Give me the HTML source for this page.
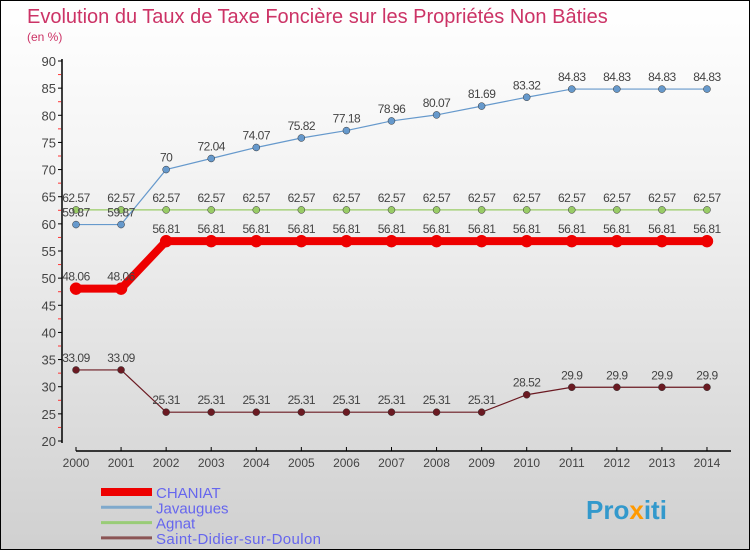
<!DOCTYPE html>
<html><head><meta charset="utf-8"><style>
body{margin:0}
#wrap{width:748px;height:548px;border:1px solid #000;background:linear-gradient(#fff,#f4f4f4 30%,#d0d0d0);position:relative;overflow:hidden;font-family:"Liberation Sans",sans-serif}
svg{position:absolute;left:0;top:0}
</style></head><body>
<div id="wrap">
<svg id="c" width="750" height="550">
<text x="26" y="22" font-size="20" fill="#cc3366">Evolution du Taux de Taxe Foncière sur les Propriétés Non Bâties</text>
<text x="26" y="40" font-size="12" fill="#cc3366">(en %)</text>
<text x="585" y="518" font-size="26" font-weight="bold" fill="#3399cc">Pro<tspan fill="#ff9900">x</tspan>iti</text>
</svg></div>
<script>
const years=[2000,2001,2002,2003,2004,2005,2006,2007,2008,2009,2010,2011,2012,2013,2014];
const chaniat=[48.06,48.06,56.81,56.81,56.81,56.81,56.81,56.81,56.81,56.81,56.81,56.81,56.81,56.81,56.81];
const javaugues=[59.87,59.87,70,72.04,74.07,75.82,77.18,78.96,80.07,81.69,83.32,84.83,84.83,84.83,84.83];
const agnat=[62.57,62.57,62.57,62.57,62.57,62.57,62.57,62.57,62.57,62.57,62.57,62.57,62.57,62.57,62.57];
const saintDidier=[33.09,33.09,25.31,25.31,25.31,25.31,25.31,25.31,25.31,25.31,28.52,29.9,29.9,29.9,29.9];
const yTicks=[20,25,30,35,40,45,50,55,60,65,70,75,80,85,90];
const svg=document.getElementById('c'),NS='http://www.w3.org/2000/svg';
const xs=i=>75+i*45.07, ys=v=>440-(v-20)*380/70;
function mk(t,a,p){const e=document.createElementNS(NS,t);for(const k in a)e.setAttribute(k,a[k]);(p||svg).appendChild(e);return e;}
let ax=mk('line',{x1:61,y1:58,x2:61,y2:442,stroke:'#000','stroke-width':1.5});


let bx=mk('line',{x1:75,y1:450,x2:730,y2:450,stroke:'#000','stroke-width':1.5});


yTicks.forEach(v=>{
 mk('line',{x1:57,y1:ys(v),x2:61,y2:ys(v),stroke:'#000'});
 if(v<90) mk('line',{x1:57,y1:ys(v+2.5),x2:60,y2:ys(v+2.5),stroke:'#f33'});
 const t=mk('text',{x:55,y:ys(v)+5,'font-size':13,fill:'#444','text-anchor':'end'});t.textContent=v;
 
 
});
years.forEach((y,i)=>{
 mk('line',{x1:xs(i),y1:446,x2:xs(i),y2:450,stroke:'#000'});
 const t=mk('text',{x:xs(i),y:466,'font-size':12,fill:'#444','text-anchor':'middle'});t.textContent=y;
 
 
});
function series(d,color,w,r,name){
 const g=mk('g',{});
 
 
 mk('polyline',{points:d.map((v,i)=>xs(i)+','+ys(v)).join(' '),fill:'none',stroke:color,'stroke-width':w},g);
 d.forEach((v,i)=>{
  const c=mk('circle',{cx:xs(i),cy:ys(v),r:r,fill:color,stroke:w>3?color:'#333','stroke-width':0.5},g);
  
  
  const t=mk('text',{x:xs(i),y:ys(v)-8,'font-size':12,fill:'#444','text-anchor':'middle','letter-spacing':'-0.5'},g);t.textContent=v;
 });
}
series(agnat,'#99cc66',1.2,3.5,'agnat');
series(javaugues,'#6699cc',1.2,3.5,'javaugues');
series(saintDidier,'#6b1a22',1.2,3.5,'saint-didier');
series(chaniat,'#ee0000',8,6,'chaniat');
const legNames=['CHANIAT','Javaugues','Agnat','Saint-Didier-sur-Doulon'];
const legColors=['#ee0000','#7fa9cc','#99cc77','#8b5555'];
legNames.forEach((n,i)=>{
 const y=491+i*15.3;
 mk('line',{x1:100,y1:y,x2:151,y2:y,stroke:legColors[i],'stroke-width':i?3:8});
 const t=mk('text',{x:155,y:y+6,'font-size':15,fill:'#6666ee',textLength:i==3?165:null});t.textContent=n;
 if(i!=3) t.removeAttribute('textLength');
 
 
});
</script></body></html>
